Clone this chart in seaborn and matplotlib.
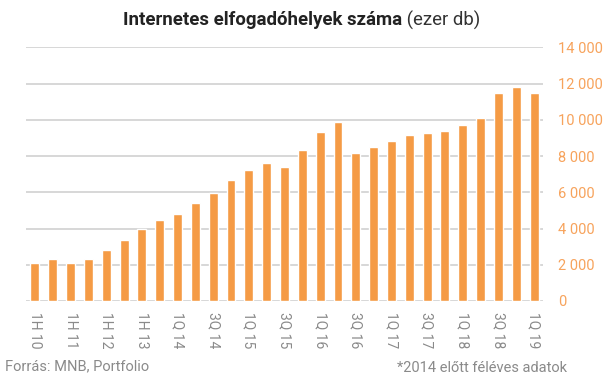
import matplotlib
matplotlib.use("Agg")
import matplotlib.pyplot as plt
import seaborn as sns
import pandas as pd

periods = ["1H 10", "2H 10", "1H 11", "2H 11", "1H 12", "2H 12", "1H 13", "2H 13",
           "1Q 14", "2Q 14", "3Q 14", "4Q 14", "1Q 15", "2Q 15", "3Q 15", "4Q 15",
           "1Q 16", "2Q 16", "3Q 16", "4Q 16", "1Q 17", "2Q 17", "3Q 17", "4Q 17",
           "1Q 18", "2Q 18", "3Q 18", "4Q 18", "1Q 19"]
values = [2100, 2310, 2100, 2310, 2810, 3360, 3970, 4460,
          4800, 5400, 5950, 6670, 7220, 7600, 7390, 8320,
          9310, 9870, 8160, 8490, 8820, 9150, 9260, 9370,
          9700, 10090, 11460, 11800, 11460]
y_ticks = [0, 2000, 4000, 6000, 8000, 10000, 12000, 14000]
y_tick_labels = ["0", "2 000", "4 000", "6 000", "8 000", "10 000", "12 000", "14 000"]

title_bold = "Internetes elfogadóhelyek száma"
title_normal = " (ezer db)"
source = "Forrás: MNB, Portfolio"
note = "*2014 előtt féléves adatok"

sns.set_theme(style="white")
plt.rcParams['font.family'] = ['Roboto', 'DejaVu Sans']

BAR = "#F59B45"
TICK = "#F7A35C"
GRAY = "#8a8a8a"

df = pd.DataFrame({"period": periods, "value": values})

fig = plt.figure(figsize=(6.05, 3.78), dpi=100)
ax = fig.add_axes([26/605, 1 - 301/378, (543-26)/605, (301-47.3)/378])

sns.barplot(data=df, x="period", y="value", color=BAR, width=0.5,
            saturation=1, ax=ax, zorder=3)

ax.set_ylim(0, 14000)
ax.set_xlim(-0.5, len(periods) - 0.5)
ax.set_yticks(y_ticks)
ax.set_yticklabels(y_tick_labels)
ax.yaxis.tick_right()
ax.tick_params(axis="y", length=0, pad=11, labelsize=10.5, labelcolor=TICK)

xt = list(range(0, len(periods), 2))
ax.set_xticks(xt)
ax.set_xticklabels([periods[i] for i in xt], rotation=-90, fontsize=10, color=GRAY)
ax.tick_params(axis="x", length=0, pad=8)

ax.set_xlabel("")
ax.set_ylabel("")
ax.grid(axis="y", color="#d4d4d4", linewidth=1.3, zorder=0)
ax.grid(axis="x", visible=False)
for s in ax.spines.values():
    s.set_visible(False)

# title in two parts
fig.canvas.draw()
r = fig.canvas.get_renderer()
t1 = fig.text(0, 1 - 20/378, title_bold, fontsize=13.4, fontweight="bold",
              color="#222222", va="center", ha="left")
t2 = fig.text(0, 1 - 20/378, title_normal, fontsize=13.4, color="#333333",
              va="center", ha="left")
w1 = t1.get_window_extent(r).width
w2 = t2.get_window_extent(r).width
total = w1 + w2
x0 = (302 - total / 2)
t1.set_x(x0 / 605)
t2.set_x((x0 + w1) / 605)

fig.text(5/605, 1 - 366/378, source, fontsize=10.5, color=GRAY, va="center", ha="left")
fig.text(567/605, 1 - 368/378, note, fontsize=10.5, color=GRAY, va="center", ha="right")

fig.savefig("out.png", dpi=100)
